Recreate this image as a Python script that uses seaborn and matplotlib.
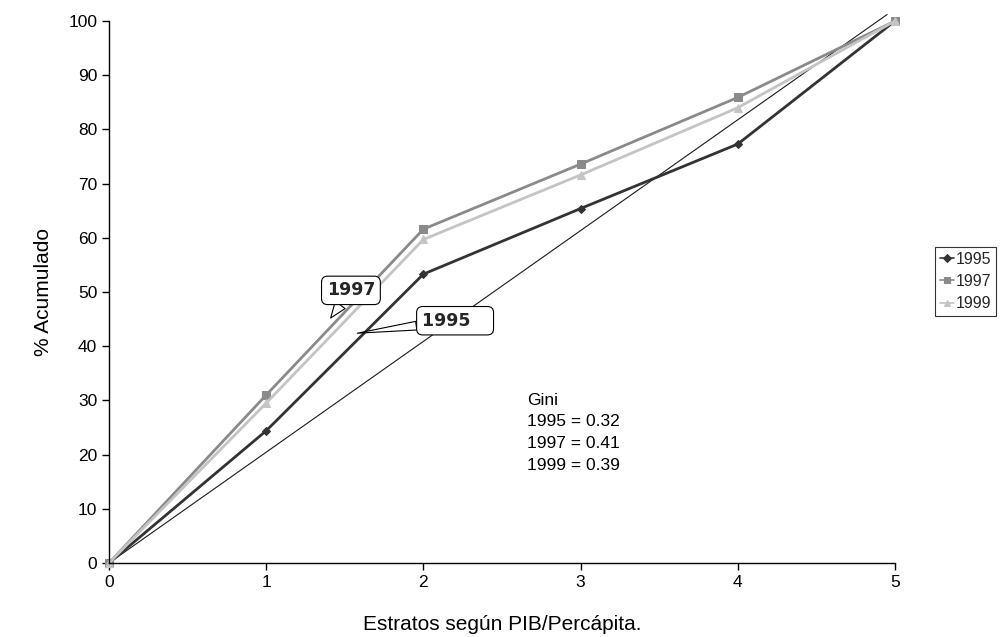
import matplotlib
matplotlib.use("Agg")
import matplotlib.pyplot as plt
import seaborn as sns
import pandas as pd

sns.set_theme(style="white")
plt.rcParams['font.family'] = ['Liberation Sans', 'DejaVu Sans']

estratos = [0, 1, 2, 3, 4, 5]
v1995 = [0, 24.4, 53.3, 65.4, 77.3, 100]
v1997 = [0, 31.0, 61.6, 73.6, 85.9, 100]
v1999 = [0, 29.5, 59.7, 71.6, 84.0, 100]
igualdad_x = [0, 4.95]
igualdad_y = [0, 101.2]
gini_text = "Gini\n1995 = 0.32\n1997 = 0.41\n1999 = 0.39"

fig = plt.figure(figsize=(10.04, 6.37), dpi=100)
ax = fig.add_axes([0.1086, 0.1162, 0.7828, 0.8508])

sns.lineplot(x=igualdad_x, y=igualdad_y, ax=ax, color="#1a1a1a", linewidth=0.8,
             clip_on=False, legend=False)

series = [
    ("1995", v1995, "#333333", "D", 4),
    ("1997", v1997, "#8a8a8a", "s", 6),
    ("1999", v1999, "#c4c4c4", "^", 6),
]
for name, vals, col, mk, ms in series:
    sns.lineplot(x=estratos, y=vals, ax=ax, color=col, linewidth=2.0, marker=mk,
                 markersize=ms, markeredgecolor=col, markerfacecolor=col,
                 label=name, clip_on=False)

ax.set_xlim(0, 5)
ax.set_ylim(0, 100)
ax.set_xticks(estratos)
ax.set_yticks(range(0, 101, 10))
for s in ["top", "right"]:
    ax.spines[s].set_visible(False)
for s in ["left", "bottom"]:
    ax.spines[s].set_color("black")
    ax.spines[s].set_linewidth(1.0)
ax.tick_params(axis="both", direction="out", length=5, width=1, color="black",
               labelsize=12.5, labelcolor="black", left=True, bottom=True)
ax.set_xlabel("Estratos según PIB/Percápita.", fontsize=15, color="black", labelpad=18)
ax.set_ylabel("% Acumulado", fontsize=15, color="black", labelpad=11)

ax.text(2.66, 31.4, gini_text, fontsize=12.5, color="black", va="top", ha="left",
        linespacing=1.55)

box = dict(boxstyle="round,pad=0.3,rounding_size=0.35", fc="white", ec="black", lw=0.8)
ax.annotate("1997", xy=(1.41, 45.2), xytext=(1.385, 50.3),
            fontsize=12.5, fontweight="bold", family="DejaVu Sans", ha="left", va="center",
            bbox=box,
            arrowprops=dict(arrowstyle="wedge,tail_width=0.7,shrink_factor=0.5",
                            fc="white", ec="black", lw=0.8, shrinkA=0, shrinkB=0))
ax.annotate("1995   ", xy=(1.58, 42.4), xytext=(1.99, 44.7),
            fontsize=12.5, fontweight="bold", family="DejaVu Sans", ha="left", va="center",
            bbox=box,
            arrowprops=dict(arrowstyle="wedge,tail_width=0.5,shrink_factor=0.5",
                            fc="white", ec="black", lw=0.8, shrinkA=0, shrinkB=0))

ax.get_legend().remove()
h, l = ax.get_legend_handles_labels()
leg = fig.legend(h, l, loc="center left", bbox_to_anchor=(0.931, 0.558),
                 frameon=True, fancybox=False, fontsize=11.5, handlelength=0.9,
                 handletextpad=0.1, borderpad=0.3, borderaxespad=0, labelspacing=0.45)
leg.get_frame().set_edgecolor("black")
leg.get_frame().set_linewidth(0.8)
for line in leg.get_lines():
    line.set_linewidth(1.2)
    line.set_markersize(4)

fig.savefig("out.png", dpi=100)
